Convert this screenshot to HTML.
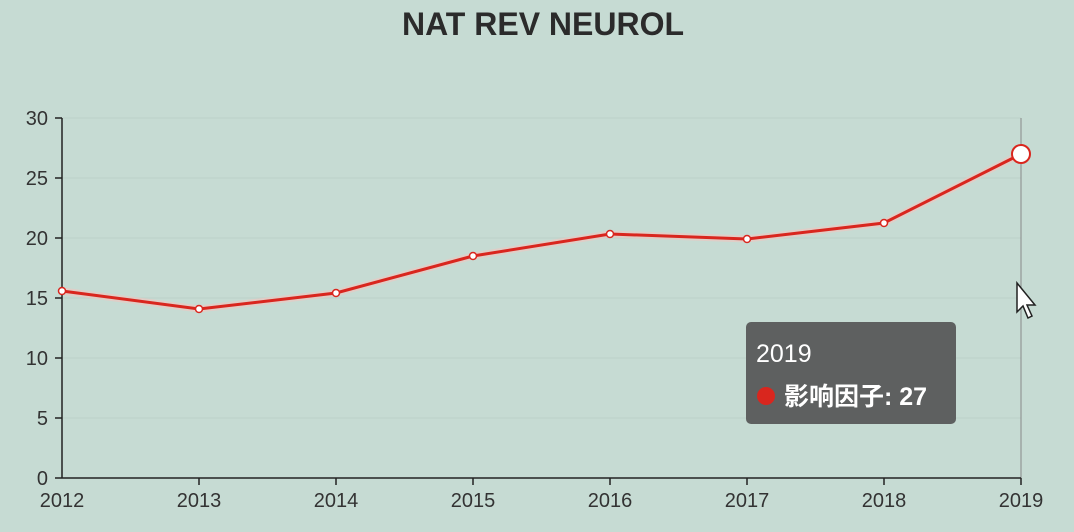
<!DOCTYPE html>
<html><head><meta charset="utf-8"><style>
body{margin:0;width:1074px;height:532px;background:#c6dbd3;overflow:hidden}
svg{display:block}
text{font-family:"Liberation Sans","Noto Sans CJK SC",sans-serif}
</style></head><body>
<svg width="1074" height="532" viewBox="0 0 1074 532">
<rect width="1074" height="532" fill="#c6dbd3"/>
<text x="543" y="35" text-anchor="middle" font-size="32" font-weight="bold" fill="#2b2b2b">NAT REV NEUROL</text>
<g stroke="#bcd0c8" stroke-width="1">
<line x1="62" y1="118" x2="1021" y2="118"/><line x1="62" y1="178" x2="1021" y2="178"/>
<line x1="62" y1="238" x2="1021" y2="238"/><line x1="62" y1="298" x2="1021" y2="298"/>
<line x1="62" y1="358" x2="1021" y2="358"/><line x1="62" y1="418" x2="1021" y2="418"/>
</g>
<line x1="1021" y1="118" x2="1021" y2="478" stroke="#888" stroke-width="1"/>
<g stroke="#222" stroke-width="1.5">
<line x1="62" y1="118" x2="62" y2="478"/><line x1="62" y1="478" x2="1021" y2="478"/>
<line x1="55" y1="118" x2="62" y2="118"/><line x1="55" y1="178" x2="62" y2="178"/>
<line x1="55" y1="238" x2="62" y2="238"/><line x1="55" y1="298" x2="62" y2="298"/>
<line x1="55" y1="358" x2="62" y2="358"/><line x1="55" y1="418" x2="62" y2="418"/>
<line x1="55" y1="478" x2="62" y2="478"/>
<line x1="199" y1="478" x2="199" y2="485"/><line x1="336" y1="478" x2="336" y2="485"/>
<line x1="473" y1="478" x2="473" y2="485"/><line x1="610" y1="478" x2="610" y2="485"/>
<line x1="747" y1="478" x2="747" y2="485"/><line x1="884" y1="478" x2="884" y2="485"/>
<line x1="1021" y1="478" x2="1021" y2="485"/>
</g>
<g font-size="20" fill="#333" text-anchor="end">
<text x="48" y="125">30</text><text x="48" y="185">25</text><text x="48" y="245">20</text>
<text x="48" y="305">15</text><text x="48" y="365">10</text><text x="48" y="425">5</text><text x="48" y="485">0</text>
</g>
<g font-size="20" fill="#333" text-anchor="middle">
<text x="62" y="507">2012</text><text x="199" y="507">2013</text><text x="336" y="507">2014</text>
<text x="473" y="507">2015</text><text x="610" y="507">2016</text><text x="747" y="507">2017</text>
<text x="884" y="507">2018</text><text x="1021" y="507">2019</text>
</g>
<polyline points="62,291 199,309 336,293 473,256 610,234 747,239 884,223 1021,154" fill="none" stroke="#f2c4c0" stroke-width="7" opacity="0.6"/>
<polyline points="62,291 199,309 336,293 473,256 610,234 747,239 884,223 1021,154" fill="none" stroke="#d9261e" stroke-width="3"/>
<g fill="#fff" stroke="#d9261e" stroke-width="1.5">
<circle cx="62" cy="291" r="3.5"/><circle cx="199" cy="309" r="3.5"/><circle cx="336" cy="293" r="3.5"/>
<circle cx="473" cy="256" r="3.5"/><circle cx="610" cy="234" r="3.5"/><circle cx="747" cy="239" r="3.5"/>
<circle cx="884" cy="223" r="3.5"/><circle cx="1021" cy="154" r="9" stroke-width="2"/>
</g>
<rect x="746" y="322" width="210" height="102" rx="5" fill="#5e6060"/>
<text x="756" y="362" font-size="25" fill="#fff">2019</text>
<circle cx="766" cy="396" r="9" fill="#d9261e"/>
<text x="784" y="405" font-size="25" font-weight="bold" fill="#fff">影响因子: 27</text>
<path d="M1017,283 L1017,312 L1023,306 L1028,318 L1032,316 L1027,305 L1035,305 Z" fill="#fff" stroke="#222" stroke-width="1.5"/>
</svg>
</body></html>
